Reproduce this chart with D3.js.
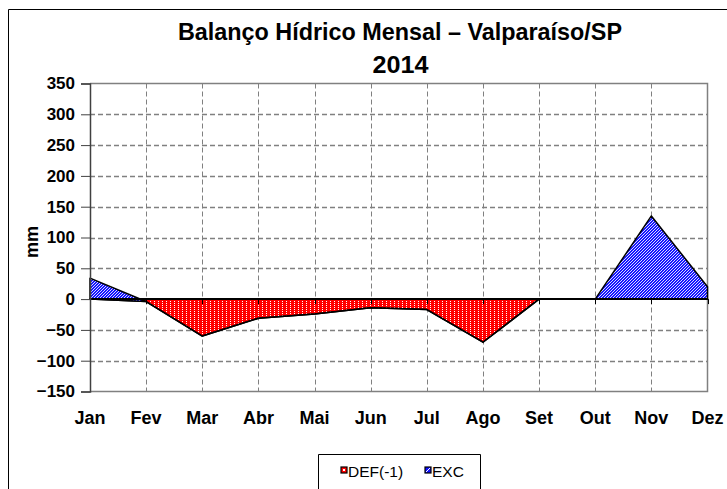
<!DOCTYPE html>
<html>
<head>
<meta charset="utf-8">
<script src="https://cdn.jsdelivr.net/npm/d3@7/dist/d3.min.js"></script>
<style>
  html, body { margin: 0; padding: 0; background: #fff; }
  svg { display: block; }
  text { font-family: "Liberation Sans", Arial, sans-serif; }
</style>
</head>
<body>
<svg id="chart" width="727" height="489"></svg>
<script>
const months = ["Jan","Fev","Mar","Abr","Mai","Jun","Jul","Ago","Set","Out","Nov","Dez"];
const def = [0, -4, -60, -31, -24, -14, -17, -70, 0, 0, 0, 0];
const exc = [34, 0, 0, 0, 0, 0, 0, 0, 0, 0, 135, 20];
const yTicks = [-150, -100, -50, 0, 50, 100, 150, 200, 250, 300, 350];
const titleLines = ["Balanço Hídrico Mensal – Valparaíso/SP", "2014"];
const yLabel = "mm";
const legendLabels = ["DEF(-1)", "EXC"];

(function () {
const svg = d3.select("#chart");
const W = 727, H = 489;
const pLeft = 90, pRight = 707.5, pTop = 83.5, pBottom = 391.5;
const RED = "#ff0000", BLUE = "#1010ff";

const x = d3.scalePoint().domain(months).range([pLeft, pRight]);
const y = d3.scaleLinear().domain([-150, 350]).range([pBottom, pTop]);

const defs = svg.append("defs");

// texture drawers (white dots / white diagonal lines) clipped to a shape
function dotTexture(gSel, x0, y0, x1, y1) {
  const pts = [];
  for (let yy = Math.floor(y0); yy <= y1; yy += 2) {
    const off = (Math.floor(yy) % 4 === 0) ? 0 : 2;
    for (let xx = Math.floor(x0 / 4) * 4 + off; xx <= x1; xx += 4) pts.push([xx, yy]);
  }
  gSel.selectAll("rect.dot").data(pts).enter().append("rect")
    .attr("x", d => d[0]).attr("y", d => d[1]).attr("width", 1).attr("height", 1)
    .attr("fill", "#ffffff").attr("shape-rendering", "crispEdges");
}
function diagTexture(gSel, x0, y0, x1, y1) {
  const h = y1 - y0;
  const starts = d3.range(Math.floor(x0) - h - 4, x1 + 4, 3);
  gSel.selectAll("line.dg").data(starts).enter().append("line")
    .attr("x1", d => d).attr("y1", y1).attr("x2", d => d + h).attr("y2", y0)
    .attr("stroke", "#ffffff").attr("stroke-width", 0.9);
}

// outer border (left and top)
svg.append("path").attr("d", `M8.5,${H} L8.5,9.5 L${W},9.5`).attr("fill", "none").attr("stroke", "#000").attr("stroke-width", 1);

// title
svg.append("text").attr("x", 400).attr("y", 40).attr("text-anchor", "middle")
  .attr("font-size", 24).attr("font-weight", "bold").attr("fill", "#000")
  .attr("textLength", 444).attr("lengthAdjust", "spacingAndGlyphs")
  .text(titleLines[0]);
svg.append("text").attr("x", 400.5).attr("y", 73).attr("text-anchor", "middle")
  .attr("font-size", 24).attr("font-weight", "bold").attr("fill", "#000")
  .attr("textLength", 56).attr("lengthAdjust", "spacingAndGlyphs")
  .text(titleLines[1]);

// horizontal gridlines
const g = svg.append("g");
g.selectAll("line.hg").data(yTicks.filter(d => d !== 350 && d !== -150 && d !== 0)).enter().append("line")
  .attr("x1", pLeft).attr("x2", pRight).attr("y1", d => Math.round(y(d)) + 0.5).attr("y2", d => Math.round(y(d)) + 0.5)
  .attr("stroke", "#808080").attr("stroke-width", 1.5).attr("stroke-dasharray", "5,3");
// vertical gridlines
g.selectAll("line.vg").data(months.slice(1, 11)).enter().append("line")
  .attr("x1", d => Math.round(x(d)) + 0.5).attr("x2", d => Math.round(x(d)) + 0.5)
  .attr("y1", pTop).attr("y2", pBottom)
  .attr("stroke", "#808080").attr("stroke-width", 1).attr("stroke-dasharray", "5,3");
// plot border top / right / bottom
svg.append("path").attr("d", `M${pLeft},${pTop} L${pRight},${pTop} L${pRight},${pBottom} L${pLeft},${pBottom}`)
  .attr("fill", "none").attr("stroke", "#808080").attr("stroke-width", 1.5);

// stacked areas
const defArea = d3.area().x((d, i) => x(months[i])).y0(y(0)).y1(d => y(d));
const excArea = d3.area().x((d, i) => x(months[i])).y0((d, i) => y(def[i])).y1((d, i) => y(def[i] + exc[i]));

function drawArea(id, data, gen, color, texture, yLo, yHi) {
  const d = gen(data);
  defs.append("clipPath").attr("id", id).append("path").attr("d", d);
  svg.append("path").attr("d", d).attr("fill", color);
  const tg = svg.append("g").attr("clip-path", `url(#${id})`);
  texture(tg, pLeft, y(yHi), pRight, y(yLo));
  svg.append("path").attr("d", d).attr("fill", "none")
    .attr("stroke", "#000").attr("stroke-width", 1.5).attr("stroke-linejoin", "round");
}
drawArea("clipDef", def, defArea, RED, dotTexture, d3.min(def), 0);
drawArea("clipExc", exc, excArea, BLUE, diagTexture, d3.min(def), d3.max(exc.map((v, i) => v + def[i])));

// zero (category) axis
svg.append("line").attr("x1", pLeft).attr("x2", pRight).attr("y1", y(0)).attr("y2", y(0))
  .attr("stroke", "#000").attr("stroke-width", 2);
svg.selectAll("line.xt").data(months).enter().append("line")
  .attr("x1", d => Math.round(x(d)) + 0.5).attr("x2", d => Math.round(x(d)) + 0.5)
  .attr("y1", y(0)).attr("y2", y(0) + 5)
  .attr("stroke", "#000").attr("stroke-width", 1);

// y axis
const yAxis = d3.axisLeft(y).tickValues(yTicks).tickSize(9).tickPadding(6).tickFormat(d3.format("d"));
const ya = svg.append("g").attr("transform", `translate(${pLeft},0)`).call(yAxis);
ya.select(".domain").attr("stroke", "#404040").attr("stroke-width", 1.5);
ya.selectAll(".tick line").attr("stroke", "#404040").attr("stroke-width", 1);
ya.selectAll(".tick text").attr("font-size", 17).attr("font-weight", "bold")
  .attr("font-family", "'Liberation Sans', Arial, sans-serif").attr("fill", "#000");

// x labels
svg.selectAll("text.xl").data(months).enter().append("text")
  .attr("x", d => x(d)).attr("y", 424).attr("text-anchor", "middle")
  .attr("font-size", 18).attr("font-weight", "bold").attr("fill", "#000")
  .text(d => d);

// y label
svg.append("text").attr("transform", "translate(38,242) rotate(-90)").attr("text-anchor", "middle")
  .attr("font-size", 18).attr("font-weight", "bold").attr("fill", "#000").text(yLabel);

// legend
svg.append("path").attr("d", `M318.5,${H} L318.5,454.5 L480.5,454.5 L480.5,${H}`)
  .attr("fill", "none").attr("stroke", "#000").attr("stroke-width", 1);
const leg = [{x: 341, color: RED, label: legendLabels[0]}, {x: 425, color: BLUE, label: legendLabels[1]}];
leg.forEach((l, i) => {
  svg.append("rect").attr("x", l.x).attr("y", 467).attr("width", 6).attr("height", 6)
    .attr("fill", l.color).attr("stroke", "#000").attr("stroke-width", 1.2);
  if (i === 0) {
    svg.append("rect").attr("x", l.x + 2).attr("y", 469).attr("width", 2).attr("height", 2).attr("fill", "#fff");
  } else {
    svg.append("line").attr("x1", l.x + 1).attr("y1", 472).attr("x2", l.x + 5).attr("y2", 468)
      .attr("stroke", "#fff").attr("stroke-width", 1);
  }
  svg.append("text").attr("x", l.x + 7).attr("y", 477).attr("font-size", 15.5).attr("fill", "#000").text(l.label);
});
})();
</script>
</body>
</html>
